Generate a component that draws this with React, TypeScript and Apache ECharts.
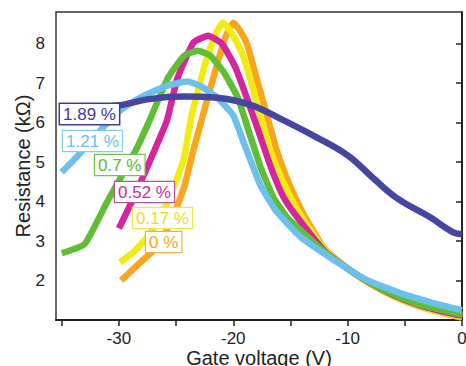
import React, { useEffect, useRef } from "react";
import * as echarts from "echarts";

// Gate voltage (V), resistance (kΩ) pairs per strain level
const strain0: [number, number][] = [
  [-29.8, 2.0], [-28.2, 2.44], [-26.7, 2.84], [-25.5, 3.45], [-24.3, 4.36], [-23.5, 5.29],
  [-22.3, 6.56], [-21.4, 7.49], [-20.7, 8.15], [-20.0, 8.53], [-19.4, 8.32], [-18.8, 7.99],
  [-17.9, 7.06], [-17.0, 6.13], [-16.2, 5.3], [-15.4, 4.65], [-14.6, 4.11], [-13.7, 3.6],
  [-12, 2.8], [-10, 2.3], [-8, 1.91], [-6, 1.6], [-4, 1.37], [-2, 1.2], [0, 1.06],
];
const strain017: [number, number][] = [
  [-29.9, 2.46], [-28.8, 2.7], [-27.6, 3.07], [-26.6, 3.5], [-25.8, 3.95], [-24.9, 4.6],
  [-24.3, 5.1], [-23.7, 6.1], [-23.0, 6.9], [-22.3, 7.64], [-21.4, 8.32], [-20.9, 8.53],
  [-20.1, 8.25], [-19.2, 7.74], [-18.4, 6.98], [-17.6, 6.13], [-16.9, 5.4], [-16.1, 4.8],
  [-15.0, 4.11], [-14.0, 3.6], [-12, 2.78], [-10, 2.3], [-8, 1.92], [-6, 1.61], [-4, 1.38],
  [-2, 1.21], [0, 1.08],
];
const strain052: [number, number][] = [
  [-30.0, 3.32], [-28.7, 4.1], [-27.0, 5.22], [-25.8, 6.05], [-24.9, 7.1], [-23.5, 8.02],
  [-22.2, 8.2], [-21.0, 8.0], [-19.8, 7.39], [-18.8, 6.61], [-17.9, 5.87], [-16.7, 4.86],
  [-15.6, 4.11], [-14.4, 3.6], [-12, 2.74], [-10, 2.3], [-8, 1.93], [-6, 1.63], [-4, 1.4],
  [-2, 1.24], [0, 1.11],
];
const strain07: [number, number][] = [
  [-35.0, 2.69], [-33.0, 2.92], [-31.1, 3.95], [-28.4, 5.37], [-27.2, 6.13], [-25.7, 7.14],
  [-24.3, 7.69], [-23.1, 7.82], [-22.0, 7.69], [-20.8, 7.26], [-19.6, 6.63], [-18.8, 5.92],
  [-17.6, 4.86], [-16.5, 4.11], [-15.3, 3.6], [-14.1, 3.27], [-12, 2.72], [-10, 2.3],
  [-8, 1.94], [-6, 1.65], [-4, 1.42], [-2, 1.27], [0, 1.14],
];
const strain121: [number, number][] = [
  [-35.0, 4.74], [-33.4, 5.22], [-31.8, 5.75], [-30.1, 6.25], [-28.6, 6.55], [-27.2, 6.76],
  [-25.6, 6.95], [-24.0, 7.04], [-22.7, 6.9], [-21.4, 6.63], [-20.0, 6.18], [-19.1, 5.5],
  [-18.5, 5.05], [-17.6, 4.4], [-16.3, 3.78], [-14.1, 3.1], [-11.2, 2.52], [-8.3, 2.01],
  [-5.4, 1.68], [-2.5, 1.43], [0, 1.25],
];
const strain189: [number, number][] = [
  [-34.8, 6.25], [-32.5, 6.36], [-30.1, 6.43], [-27.2, 6.6], [-24.4, 6.66], [-21.4, 6.63],
  [-18.5, 6.45], [-15.9, 6.1], [-13.0, 5.67], [-10.0, 5.17], [-7.75, 4.59], [-5.66, 4.08],
  [-2.78, 3.6], [-0.77, 3.22], [0, 3.17],
];

const strainLabels = ["0 %", "0.17 %", "0.52 %", "0.7 %", "1.21 %", "1.89 %"];
const xTickValues = [-35, -30, -25, -20, -15, -10, -5, 0];
const xLabelValues = [-30, -20, -10, 0];
const yTickValues = [2, 3, 4, 5, 6, 7, 8];

const colors = ["#FBA61A", "#F0EC12", "#D6249C", "#60BE36", "#6CC0EC", "#4646A0"];
const borderColors = ["#F7B040", "#EDE84A", "#B8539E", "#72C24E", "#86CCEE", "#3E3E98"];
const textColors = ["#F9A520", "#E6E21A", "#CC2A9C", "#5CB834", "#6CBFEA", "#3C3C9C"];
const labelPos: [number, number][] = [
  [146, 232], [133, 208], [115, 182], [95, 155], [63, 131], [60, 104],
];

export default function App() {
  const ref = useRef<HTMLDivElement>(null);
  useEffect(() => {
    document.body.style.margin = "0";
    if (!ref.current) return;
    const chart = echarts.init(ref.current, undefined, { renderer: "svg" });
    const datasets = [strain0, strain017, strain052, strain07, strain121, strain189];
    const font = "'Liberation Sans', Arial, sans-serif";
    chart.setOption({
      animation: false,
      backgroundColor: "#fff",
      grid: {
        left: 56, top: 12, right: 4, bottom: 46,
        outerBoundsMode: "none",
        containLabel: false,
        show: true, borderColor: "#333", borderWidth: 1.5,
      },
      xAxis: {
        type: "value", min: -35.5, max: 0,
        name: "Gate voltage (V)", nameLocation: "middle", nameGap: 28,
        nameMoveOverlap: false,
        nameTextStyle: { fontSize: 20, color: "#222", fontFamily: font },
        axisLine: { show: true, lineStyle: { color: "#222", width: 2 } },
        axisTick: { show: true, length: 6, customValues: xTickValues, lineStyle: { color: "#222", width: 1.5 } },
        axisLabel: { customValues: xLabelValues, fontSize: 17, color: "#222", fontFamily: font, margin: 10 },
        splitLine: { show: false },
      },
      yAxis: {
        type: "value", min: 1, max: 8.8,
        name: "Resistance (kΩ)", nameLocation: "middle", nameGap: 23, nameRotate: 90,
        nameMoveOverlap: false,
        nameTextStyle: { fontSize: 20, color: "#222", fontFamily: font },
        axisLine: { show: true, lineStyle: { color: "#222", width: 2 } },
        axisTick: { show: true, length: 6, customValues: yTickValues, lineStyle: { color: "#222", width: 1.5 } },
        axisLabel: { customValues: yTickValues, fontSize: 17, color: "#222", fontFamily: font, margin: 11 },
        splitLine: { show: false },
      },
      series: datasets.map((d, i) => ({
        type: "line",
        name: strainLabels[i],
        data: d,
        showSymbol: false,
        smooth: i === 5 ? 0.4 : 0.15,
        lineStyle: { color: colors[i], width: 6.5, cap: "butt", join: "round" },
        z: 2 + i,
      })),
      graphic: strainLabels.map((t, i) => ({
        type: "text",
        x: labelPos[i][0],
        y: labelPos[i][1],
        z: 100,
        style: {
          text: t,
          fontSize: 17,
          fontFamily: font,
          fill: textColors[i],
          backgroundColor: "#fff",
          borderColor: borderColors[i],
          borderWidth: i === 5 ? 1.5 : 1.2,
          padding: [2, 3, 1, 3],
        },
      })),
    });
    return () => chart.dispose();
  }, []);
  return <div ref={ref} style={{ width: 466, height: 366 }} />;
}
